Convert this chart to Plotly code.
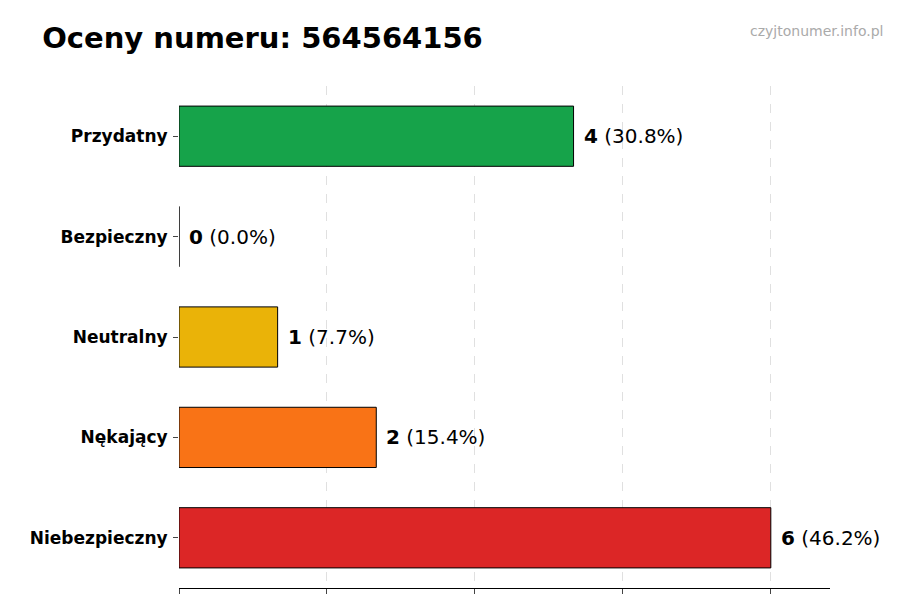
import plotly.graph_objects as go

categories = ["Niebezpieczny", "Nękający", "Neutralny", "Bezpieczny", "Przydatny"]
counts = [6, 2, 1, 0, 4]
percents = ["46.2%", "15.4%", "7.7%", "0.0%", "30.8%"]
colors = ["#dc2626", "#f97316", "#eab308", "#22c55e", "#16a34a"]

fig = go.Figure()
fig.add_trace(go.Bar(
    y=categories, x=counts, orientation="h", width=0.6,
    marker=dict(color=colors, line=dict(color="black", width=1)),
    hoverinfo="skip",
))

for c, n, p in zip(categories, counts, percents):
    fig.add_annotation(
        x=n, y=c, text=f"<b>{n}</b> ({p})", showarrow=False,
        xanchor="left", xshift=8, font=dict(size=20, color="black"),
    )

fig.update_layout(
    width=900, height=600,
    font=dict(family="DejaVu Sans", color="black"),
    plot_bgcolor="white", paper_bgcolor="white",
    showlegend=False,
    margin=dict(l=171, r=78, t=78, b=20, autoexpand=False),
    title=dict(text="<b>Oceny numeru: 564564156</b>", x=0.038, y=0.95,
               xanchor="left", yanchor="middle", font=dict(size=29)),
    xaxis=dict(range=[0, 6.6], dtick=1.5, showticklabels=False,
               ticks="outside", ticklen=5, showgrid=True, automargin=False,
               gridcolor="#e0e0e0", griddash="dash", gridwidth=1, zeroline=False,
               showline=True, linecolor="black"),
    yaxis=dict(ticks="outside", ticklen=5, tickfont=dict(size=17),
               ticklabelstandoff=2, range=[-0.5, 4.5], showgrid=False,
               automargin=False,
               tickprefix="<b>", ticksuffix="</b>"),
)
fig.add_annotation(text="czyjtonumer.info.pl", xref="paper", yref="paper",
                   x=1.085, y=1.13, xanchor="right", showarrow=False,
                   font=dict(size=14, color="#aaaaaa"))

fig.write_html("out.html")
